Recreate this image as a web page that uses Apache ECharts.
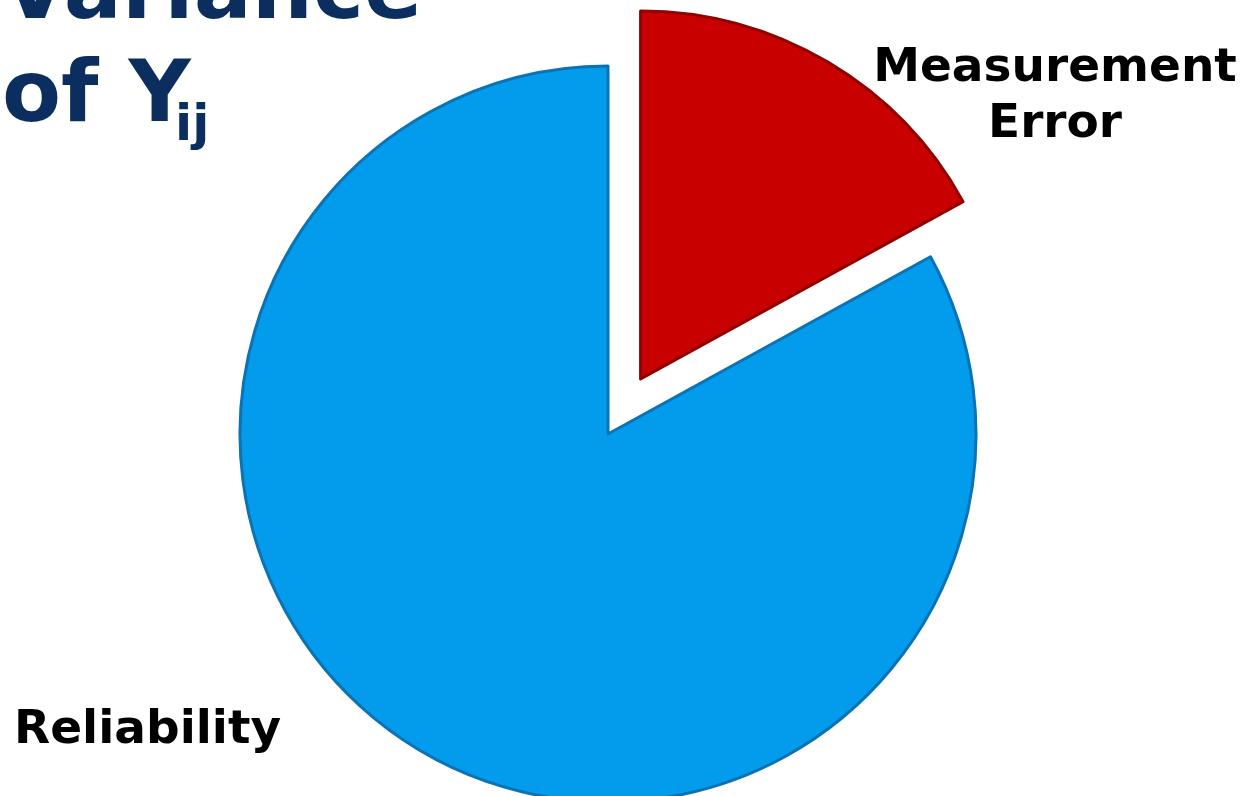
<!DOCTYPE html>
<html>
<head>
<meta charset="utf-8">
<script src="https://cdn.jsdelivr.net/npm/echarts@6/dist/echarts.min.js"></script>
<style>
html,body{margin:0;padding:0;background:#fff;}
#c{width:1246px;height:796px;}
</style>
</head>
<body>
<div id="c"></div>
<script>
const categories = ['Measurement\nError', 'Reliability'];
const values = [17, 83];
const colors = ['#C80000', '#039CEC'];
const borders = ['#930000', '#0A72B5'];
const titleLines = ['Variance', 'of Y', 'ij'];

const chart = echarts.init(document.getElementById('c'), null, {renderer: 'canvas'});
const FONT = '"DejaVu Sans", Verdana, sans-serif';
const labelPos = [
  {x: 1055, y: 97, align: 'center'},
  {x: 14, y: 731, align: 'left'}
];
const graphics = [
  {type: 'text', left: 2, top: -47, style: {text: titleLines[0], font: 'bold 86px ' + FONT, fill: '#0B2E5F'}},
  {type: 'text', x: 2, y: 99, style: {text: titleLines[1], font: 'bold 86px ' + FONT, fill: '#0B2E5F', verticalAlign: 'middle'}},
  {type: 'text', x: 175, y: 127, style: {text: titleLines[2], font: 'bold 50px ' + FONT, fill: '#0B2E5F', verticalAlign: 'middle'}}
];
categories.forEach((n, i) => {
  graphics.push({
    type: 'text', x: labelPos[i].x, y: labelPos[i].y, z: 10,
    style: {text: n, font: 'bold 47px ' + FONT, fill: '#000', align: labelPos[i].align, verticalAlign: 'middle', lineHeight: 56}
  });
});
chart.setOption({
  animation: false,
  backgroundColor: '#ffffff',
  graphic: graphics,
  series: [{
    type: 'pie',
    center: [608, 434],
    radius: 368,
    startAngle: 90,
    clockwise: true,
    selectedMode: 'single',
    selectedOffset: 64,
    data: categories.map((n, i) => ({
      name: n,
      value: values[i],
      selected: i === 0,
      itemStyle: {color: colors[i], borderColor: borders[i], borderWidth: 3}
    })),
    label: {show: false},
    labelLine: {show: false},
    emphasis: {disabled: true}
  }]
});
</script>
</body>
</html>
